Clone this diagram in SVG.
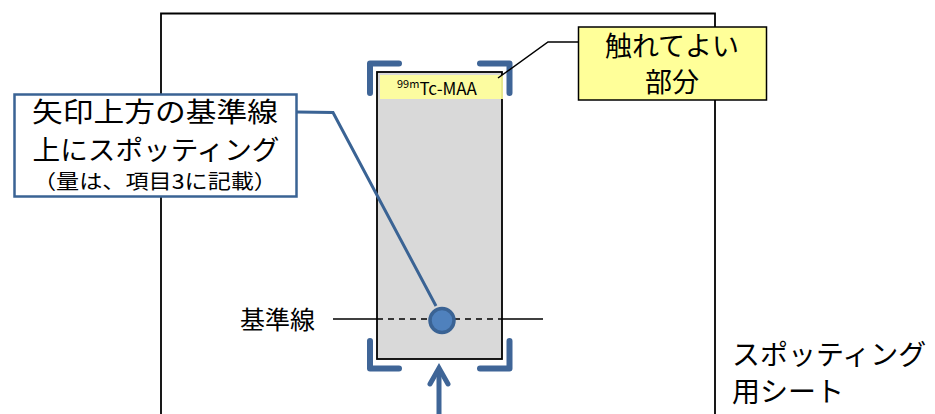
<svg xmlns="http://www.w3.org/2000/svg" width="935" height="414" viewBox="0 0 935 414">
<style>
text{font-family:"Noto Sans CJK JP","Noto Sans",sans-serif;fill:#000}
.br{fill:none;stroke:#3f6597;stroke-width:6;stroke-linejoin:round;stroke-linecap:round}
.blue{stroke:#3a6394;stroke-width:3;fill:none}
</style>
<rect width="935" height="414" fill="#fff"/>
<g id="sheet">
<path d="M161,414 V13.5 H715 V414" fill="none" stroke="#000" stroke-width="1.8"/>
<text x="732" y="365" font-size="28">スポッティング</text>
<text x="732" y="402" font-size="28">用シート</text>
</g>
<g id="strip">
<rect x="377" y="72" width="125" height="287" fill="#d9d9d9" stroke="#000" stroke-width="1.8"/>
<rect x="380" y="75" width="123" height="24" fill="#ffff99" opacity="0.9"/>
<text x="397" y="95" font-size="17" font-family="Liberation Sans"><tspan font-size="11" dy="-7">99m</tspan><tspan dy="7">Tc-MAA</tspan></text>
</g>
<g id="brackets">
<path class="br" d="M370,93 V63.5 H399"/>
<path class="br" d="M480,63.5 H509.5 V93"/>
<path class="br" d="M370,341 V368.5 H399"/>
<path class="br" d="M480,368.5 H509.5 V341"/>
</g>
<g id="baseline">
<line x1="333" y1="319" x2="377" y2="319" stroke="#000" stroke-width="1.5"/>
<line x1="377" y1="319" x2="502" y2="319" stroke="#000" stroke-width="1.5" stroke-dasharray="6,5"/>
<line x1="502" y1="319" x2="543" y2="319" stroke="#000" stroke-width="1.5"/>
<text x="240" y="329" font-size="25">基準線</text>
</g>
<g id="connectors">
<polyline class="blue" points="297,112 333,112.5 436,306"/>
<polyline points="498,78 548,42 578,42" fill="none" stroke="#000" stroke-width="1.5"/>
<line x1="439" y1="414" x2="439" y2="372" stroke="#3f6597" stroke-width="5"/>
<polyline points="430,384 439,368 448,384" fill="none" stroke="#3f6597" stroke-width="5" stroke-linejoin="miter" stroke-linecap="round"/>
</g>
<g id="spot">
<circle cx="442" cy="320.5" r="12" fill="#4f81bd" stroke="#3a6394" stroke-width="3.5"/>
</g>
<g id="callout-left">
<rect x="14.5" y="94.5" width="282" height="102" fill="#fff" stroke="#3a6394" stroke-width="2.5"/>
<text x="155" y="122" font-size="27" text-anchor="middle" textLength="246" lengthAdjust="spacingAndGlyphs">矢印上方の基準線</text>
<text x="156" y="160" font-size="27" text-anchor="middle" textLength="247" lengthAdjust="spacingAndGlyphs">上にスポッティング</text>
<text x="155" y="189" font-size="20" text-anchor="middle" textLength="244" lengthAdjust="spacingAndGlyphs">（量は、項目3に記載）</text>
</g>
<g id="callout-right">
<rect x="578.5" y="27" width="188" height="73" fill="#ffff99" stroke="#000" stroke-width="1.5"/>
<text x="672" y="56" font-size="27" text-anchor="middle">触れてよい</text>
<text x="672" y="92" font-size="27" text-anchor="middle">部分</text>
</g>
</svg>
